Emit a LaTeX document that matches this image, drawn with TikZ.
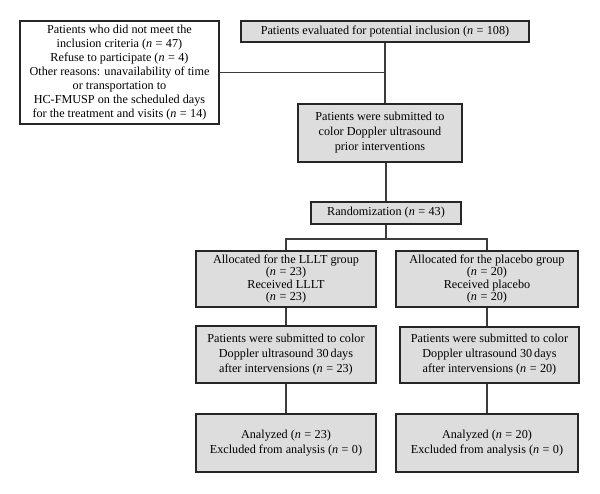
\documentclass[tikz,border=0pt]{standalone}
\usepackage{fontspec}
\setmainfont{Liberation Serif}
\usepackage{tikz}
\definecolor{boxgray}{RGB}{221,221,221}
\definecolor{linegray}{RGB}{60,60,60}
\newcommand{\ncount}[1]{(\textit{n}\hspace{.28em}=\hspace{.28em}#1)}

\begin{document}
\begin{tikzpicture}[x=1pt,y=1pt,
    box/.style={draw=black!85,line width=1.2pt,fill=boxgray,align=center,
      inner sep=0pt,font=\fontsize{12.2}{15}\selectfont},
    tight/.style={font=\fontsize{12.2}{12.6}\selectfont},
    link/.style={draw=linegray,line width=1.1pt}]
  \useasboundingbox (0,0) rectangle (600,-493);
  \node[box,fill=white,minimum width=199,minimum height=103,
    font=\fontsize{12.2}{14}\selectfont] (excl) at (119.5,-72.5)
    {Patients who did not meet the\\ inclusion criteria \ncount{47}\\
     Refuse to participate \ncount{4}\\ Other reasons: unavailability of time\\
     or transportation to\\ HC-FMUSP on the scheduled days\\
     for the treatment and visits \ncount{14}};
  \node[box,minimum width=288,minimum height=21] (eval) at (385,-31.5)
    {Patients evaluated for potential inclusion \ncount{108}};
  \node[box,minimum width=164,minimum height=58] (prior) at (380,-133)
    {Patients were submitted to\\ color Doppler ultrasound\\ prior interventions};
  \node[box,minimum width=150,minimum height=22] (rand) at (386,-213)
    {Randomization \ncount{43}};
  % groups
  \node[box,tight,minimum width=180,minimum height=56] (lllt) at (286,-279)
    {Allocated for the LLLT group\\ \ncount{23}\\ Received LLLT\\ \ncount{23}};
  \node[box,tight,minimum width=182,minimum height=56] (plac) at (487,-279)
    {Allocated for the placebo group\\ \ncount{20}\\ Received placebo\\ \ncount{20}};
  \node[box,minimum width=180,minimum height=57] (llltus) at (286,-354.5)
    {Patients were submitted to color\\ Doppler ultrasound 30\,days\\
     after intervensions \ncount{23}};
  \node[box,minimum width=179,minimum height=56] (placus) at (489.5,-355)
    {Patients were submitted to color\\ Doppler ultrasound 30\,days\\
     after intervensions \ncount{20}};
  \node[box,minimum width=180,minimum height=58] (llltan) at (286,-443)
    {Analyzed \ncount{23}\\ Excluded from analysis \ncount{0}};
  \node[box,minimum width=182,minimum height=58] (placan) at (487,-443)
    {Analyzed \ncount{20}\\ Excluded from analysis \ncount{0}};
  \coordinate (split) at (386,-239);
  \draw[link] (eval.south) -- (eval.south |- prior.north);
  \draw[link] (excl.east) -- (excl.east -| eval.south);
  \draw[link] (rand.north) -- (rand.north |- prior.south);
  \draw[link] (rand.south) -- (split);
  \draw[link] (lllt.north) |- (split) -| (plac.north);
  \draw[link] (lllt.south) -- (llltus.north); \draw[link] (llltus.south) -- (llltan.north);
  \draw[link] (plac.south) -- (plac.south |- placus.north);
  \draw[link] (plac.south |- placus.south) -- (placan.north);
\end{tikzpicture}
\end{document}
